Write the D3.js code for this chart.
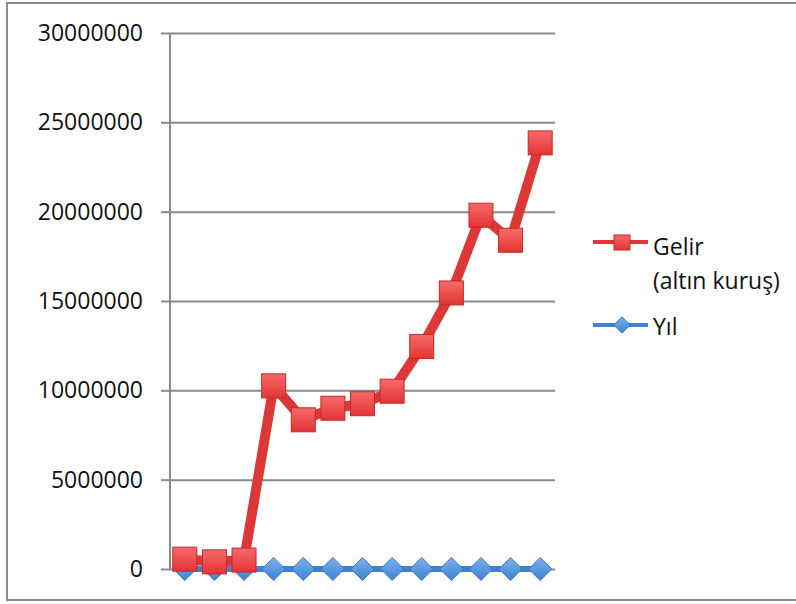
<!DOCTYPE html>
<html>
<head>
<meta charset="utf-8">
<title>Gelir</title>
<style>
  body { margin: 0; background: #fff; }
  text { font-family: "Open Sans", "Liberation Sans", sans-serif; fill: #111; }
</style>
</head>
<body>
<script src="https://cdnjs.cloudflare.com/ajax/libs/d3/7.8.5/d3.min.js"></script>
<div id="vis"></div>
<script>

// 13 kategori (x ekseninde etiket yok)
var kategoriler = ["1","2","3","4","5","6","7","8","9","10","11","12","13"];
var gelir = [550000, 400000, 500000, 10250000, 8350000, 9000000, 9250000, 9950000, 12450000, 15450000, 19800000, 18400000, 23850000];
var yil = [1524, 1528, 1548, 1650, 1660, 1670, 1680, 1690, 1700, 1720, 1740, 1760, 1780];
var yTicks = [0, 5000000, 10000000, 15000000, 20000000, 25000000, 30000000];

var W = 796, H = 604;
var svg = d3.select("#vis").append("svg")
  .attr("width", W).attr("height", H);

var defs = svg.append("defs");
var gr = defs.append("linearGradient").attr("id", "gRed").attr("x1", 0).attr("y1", 0).attr("x2", 0).attr("y2", 1);
gr.append("stop").attr("offset", "0%").attr("stop-color", "#f66a6a");
gr.append("stop").attr("offset", "100%").attr("stop-color", "#e43434");
var gb = defs.append("linearGradient").attr("id", "gBlue").attr("x1", 0).attr("y1", 0).attr("x2", 0).attr("y2", 1);
gb.append("stop").attr("offset", "0%").attr("stop-color", "#7ab2ee");
gb.append("stop").attr("offset", "100%").attr("stop-color", "#3f82d2");

// dış çerçeve
svg.append("rect")
  .attr("x", 7).attr("y", 3).attr("width", 800).attr("height", 597)
  .attr("fill", "none").attr("stroke", "#8c8c8c").attr("stroke-width", 2);

var pLeft = 170, pRight = 555, pTop = 33, pBottom = 569;

var x = d3.scaleBand().domain(kategoriler).range([pLeft, pRight]);
var y = d3.scaleLinear().domain([0, 30000000]).range([pBottom, pTop]);
var cx = function(d, i) { return x(kategoriler[i]) + x.bandwidth() / 2; };

// yatay ızgara
svg.append("g")
  .attr("transform", "translate(" + pLeft + ",0)")
  .call(d3.axisLeft(y).tickValues(yTicks).tickSize(-(pRight - pLeft)).tickFormat(""))
  .call(function(g) {
    g.select(".domain").remove();
    g.selectAll("line").attr("stroke", "#8a8a8a").attr("stroke-width", 2);
  });

// y ekseni
svg.append("g")
  .attr("transform", "translate(" + pLeft + ",0)")
  .call(d3.axisLeft(y).tickValues(yTicks).tickSize(9).tickPadding(18).tickFormat(d3.format("d")))
  .call(function(g) {
    g.select(".domain").attr("stroke", "#8a8a8a").attr("stroke-width", 2).attr("d", "M0," + pBottom + "V" + pTop);
    g.selectAll("line").attr("stroke", "#8a8a8a").attr("stroke-width", 2);
    g.selectAll("text").style("font-size", "23px").attr("fill", "#111");
  });

// Yıl serisi
var lineYil = d3.line().x(cx).y(function(d) { return y(d); });
svg.append("path").datum(yil)
  .attr("d", lineYil).attr("fill", "none")
  .attr("stroke", "#3f82d2").attr("stroke-width", 6);

svg.selectAll("path.elmas").data(yil).enter().append("path")
  .attr("class", "elmas")
  .attr("d", d3.symbol().type(d3.symbolDiamond2).size(340))
  .attr("transform", function(d, i) { return "translate(" + cx(d, i) + "," + y(d) + ")"; })
  .attr("fill", "url(#gBlue)").attr("stroke", "#3a78c0").attr("stroke-width", 1);

// Gelir serisi
var lineGelir = d3.line().x(cx).y(function(d) { return y(d); });
svg.append("path").datum(gelir)
  .attr("d", lineGelir).attr("fill", "none")
  .attr("stroke", "#dc3838").attr("stroke-width", 10).attr("stroke-linejoin", "round");

var s = 24;
svg.selectAll("rect.kare").data(gelir).enter().append("rect")
  .attr("class", "kare")
  .attr("x", function(d, i) { return cx(d, i) - s / 2; })
  .attr("y", function(d) { return y(d) - s / 2; })
  .attr("width", s).attr("height", s)
  .attr("fill", "url(#gRed)").attr("stroke", "#c02a2a").attr("stroke-width", 1);

// lejant
var lg = svg.append("g");
lg.append("line").attr("x1", 593).attr("x2", 648).attr("y1", 242).attr("y2", 242)
  .attr("stroke", "#dc3838").attr("stroke-width", 4);
lg.append("rect").attr("x", 614).attr("y", 235).attr("width", 16).attr("height", 15)
  .attr("fill", "url(#gRed)").attr("stroke", "#c02a2a");
lg.append("text").attr("x", 653).attr("y", 255).style("font-size", "23px").text("Gelir");
lg.append("text").attr("x", 653).attr("y", 289).style("font-size", "23px").text("(altın kuruş)");

lg.append("line").attr("x1", 593).attr("x2", 648).attr("y1", 325).attr("y2", 325)
  .attr("stroke", "#3f82d2").attr("stroke-width", 4);
lg.append("path")
  .attr("d", d3.symbol().type(d3.symbolDiamond2).size(170))
  .attr("transform", "translate(622,325)")
  .attr("fill", "url(#gBlue)").attr("stroke", "#3a78c0");
lg.append("text").attr("x", 653).attr("y", 335).style("font-size", "23px").text("Yıl");

</script>
</body>
</html>
